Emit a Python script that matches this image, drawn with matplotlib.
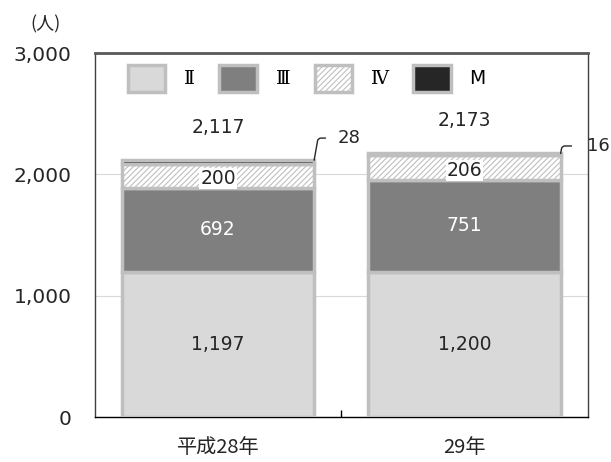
import matplotlib
matplotlib.use("Agg")
import matplotlib.pyplot as plt
import numpy as np
from matplotlib.patches import Patch

plt.rcParams['font.family'] = ['DejaVu Sans', 'Noto Sans CJK JP']
plt.rcParams['hatch.color'] = '#9a9a9a'
plt.rcParams['hatch.linewidth'] = 0.8

categories = ['平成28年', '29年']
series_names = ['Ⅱ', 'Ⅲ', 'Ⅳ', 'M']
stage2 = [1197, 1200]
stage3 = [692, 751]
stage4 = [200, 206]
stageM = [28, 16]
totals = [2117, 2173]
yticks = [0, 1000, 2000, 3000]
ytick_labels = ['0', '1,000', '2,000', '3,000']

colors = ['#d9d9d9', '#7f7f7f', 'white', '#262626']
hatches = [None, None, '//////', None]
edge = '#bfbfbf'
fs = 13.5
tc = '#262626'

fig = plt.figure(figsize=(6.11, 4.62), dpi=100)
ax = fig.add_axes([0.155, 0.097, 0.807, 0.788])

x = np.arange(len(categories))
w = 0.78
bottom = np.zeros(len(categories))
data = [stage2, stage3, stage4, stageM]
for vals, c, h in zip(data, colors, hatches):
    ax.bar(x, vals, w, bottom=bottom, color=c, edgecolor=edge, linewidth=2.5,
           hatch=h, zorder=3)
    bottom += np.array(vals)

ax.set_xlim(-0.5, 1.5)
ax.set_ylim(0, 3000)
ax.set_yticks(yticks)
ax.set_yticklabels(ytick_labels, fontsize=14.5, color=tc)
ax.tick_params(axis='y', length=0, pad=16.5)
ax.set_xticks(x)
ax.set_xticklabels(categories, fontsize=14.5, color=tc,
                   fontfamily=['Noto Sans CJK JP', 'DejaVu Sans'])
ax.tick_params(axis='x', length=0, pad=14)
ax.set_xticks([0.5], minor=True)
ax.tick_params(axis='x', which='minor', direction='in', length=5, width=1, color='black')
ax.grid(axis='y', color='#d9d9d9', linewidth=0.8, zorder=0)
for s in ax.spines.values():
    s.set_color('#404040')
    s.set_linewidth(1.0)
ax.spines['top'].set_linewidth(2.0)
ax.spines['top'].set_color('#595959')
ax.spines['bottom'].set_color('black')

m_off = [(0.097, 183, 7), (0.106, 62, 9)]
for i in range(len(categories)):
    ax.text(x[i], stage2[i] / 2, f'{stage2[i]:,}', ha='center', va='center',
            fontsize=fs, color=tc, zorder=5)
    ax.text(x[i], stage2[i] + stage3[i] / 2, f'{stage3[i]:,}', ha='center', va='center',
            fontsize=fs, color='white', zorder=5)
    ax.text(x[i], stage2[i] + stage3[i] + stage4[i] / 2 - 20, f'{stage4[i]:,}', ha='center',
            va='center', fontsize=fs, color=tc, zorder=5,
            bbox=dict(boxstyle='square,pad=0.05', fc='white', ec='none'))
    ax.text(x[i], totals[i] + 270, f'{totals[i]:,}', ha='center', va='center',
            fontsize=fs, color=tc, zorder=5)
    xr = x[i] + w / 2
    top = totals[i]
    dx, dy, sh = m_off[i]
    ax.annotate(f'{stageM[i]:,}', xy=(xr, top), xytext=(xr + dx, top + dy),
                fontsize=13, color=tc, va='center', ha='left', zorder=5,
                arrowprops=dict(arrowstyle='-', color=tc, lw=1,
                                connectionstyle='angle,angleA=0,angleB=80,rad=3',
                                shrinkA=sh, shrinkB=0))

handles = [Patch(facecolor=c, edgecolor=edge, linewidth=2.5, hatch=h)
           for c, h in zip(colors, hatches)]
leg = ax.legend(handles, series_names, loc='upper center', ncol=4, frameon=False,
                fontsize=fs, handlelength=2.0, handleheight=1.9, columnspacing=1.3,
                handletextpad=1.0, bbox_to_anchor=(0.43, 1.015))
for t in leg.get_texts()[:3]:
    t.set_fontfamily(['DejaVu Serif', 'DejaVu Sans'])
fig.text(0.075, 0.947, '(人)', fontsize=13, ha='center', va='center', color=tc,
         fontfamily=['Noto Sans CJK JP', 'DejaVu Sans'])

fig.savefig('out.png', dpi=100)
